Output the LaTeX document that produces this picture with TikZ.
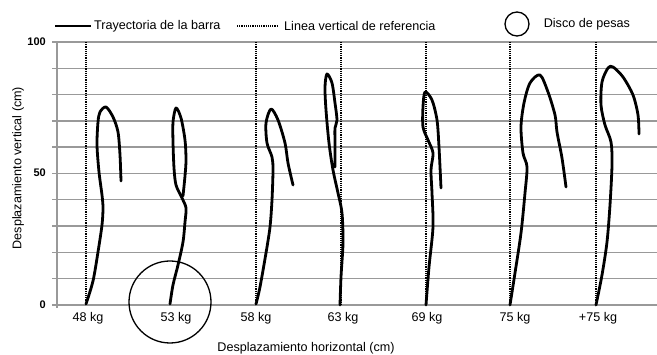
\documentclass[tikz,border=0pt]{standalone}
\usepackage{fontspec}
\setmainfont{Liberation Sans}
\usetikzlibrary{positioning}

\tikzset{
	traj/.style={line width=2.8pt, line cap=round, line join=round},
	refline/.style={line width=2pt, dash pattern=on 1.2pt off 1pt},
	gridline/.style={black!40, line width=1.4pt},
	disco/.style={circle, draw, line width=1.3pt, inner sep=0pt},
	lbl/.style={font=\fontsize{12.6}{14}\selectfont, inner sep=0pt},
	ticklbl/.style={font=\bfseries\fontsize{11}{13}\selectfont, inner sep=0pt, anchor=east}
}

\begin{document}
\begin{tikzpicture}[x=1pt, y=-1pt]
		\useasboundingbox (0,0) rectangle (657,355);

		\foreach \i in {0,...,10}
			\draw[gridline] (52,{42+26.3*\i}) -- (657,{42+26.3*\i});
		\draw[gridline] (57,42) -- (57,308);

		\foreach \x in {86,256,341,426,510,596}
			\draw[refline] (\x,42) -- (\x,305);

		\draw[traj] plot[smooth] coordinates {(86,304) (93,281) (98,252) (102,225) (103,208) (102,195) (99,172) (97,145) (98,122) (100,112) (106,107) (113,117) (118,132) (120,155) (121,181)};
		\draw[traj] plot[smooth] coordinates {(170,304) (173,285) (178,265) (183,242) (185,222) (186,208) (182,198) (176,185) (174,168) (173,142) (173,122) (176,108) (181,118) (185,140) (186,160) (185,176) (183,196)};
		\draw[traj] plot[smooth] coordinates {(256,304) (260,287) (266,253) (270,227) (272,200) (273,170) (272,157) (267,143) (266,123) (271,109) (278,120) (285,143) (288,163) (293,185)};
		\draw[traj] plot[smooth] coordinates {(340,305) (341,277) (343,243) (342,213) (338,193) (333,170) (329,143) (326,110) (325,87) (327,74) (332,83) (335,103) (337,120) (335,128) (335,143) (335,167)};
		\draw[traj] plot[smooth] coordinates {(426,305) (429,267) (433,227) (432,193) (431,170) (433,153) (428,140) (423,127) (423,107) (425,92) (432,100) (437,120) (439,147) (441,188)};
		\draw[traj] plot[smooth] coordinates {(510,305) (515,273) (521,233) (525,193) (527,167) (523,153) (521,127) (524,103) (530,83) (540,75) (548,92) (555,115) (557,132) (562,158) (566,187)};
		\draw[traj] plot[smooth] coordinates {(596,305) (602,275) (607,242) (610,205) (612,165) (611,142) (605,125) (601,105) (602,82) (608,68) (613,67) (623,77) (633,95) (638,115) (639,134)};

		\node[disco, minimum size=82pt] (disco53) at (170,302) {};

		\node[ticklbl] (t100) at (46,42) {100};
		\node[ticklbl] (t50) at (46,173) {50};
		\node[ticklbl] (t0) at (46,305) {0};

		\node[lbl] (k48) at (88,318) {48 kg};
		\node[lbl] (k53) at (176,318) {53 kg};
		\node[lbl] (k58) at (256,318) {58 kg};
		\node[lbl] (k63) at (343,318) {63 kg};
		\node[lbl] (k69) at (427,318) {69 kg};
		\node[lbl] (k75) at (515,318) {75 kg};
		\node[lbl] (kmas) at (598,318) {+75 kg};

		\node[lbl] (xlab) at (306,348) {Desplazamiento horizontal (cm)};
		\node[lbl, rotate=90] (ylab) at (18,168) {Desplazamiento vertical (cm)};

		\coordinate (la) at (55,26);
		\coordinate (lb) at (91,26);
		\draw[traj, line cap=butt] (la) -- (lb);
		\node[lbl] (ttraj) [right = 3pt of lb] {Trayectoria de la barra};
		\coordinate (lc) at (237,26);
		\coordinate (ld) at (277,26);
		\draw[refline, line width=1.4pt] (lc) -- (ld);
		\node[lbl] (tref) [right = 7pt of ld] {Linea vertical de referencia};
		\node[disco, minimum size=24pt] (ldisco) at (517,24) {};
		\node[lbl] (tdisco) [right = 14pt of ldisco] {Disco de pesas};
	\end{tikzpicture}
\end{document}
